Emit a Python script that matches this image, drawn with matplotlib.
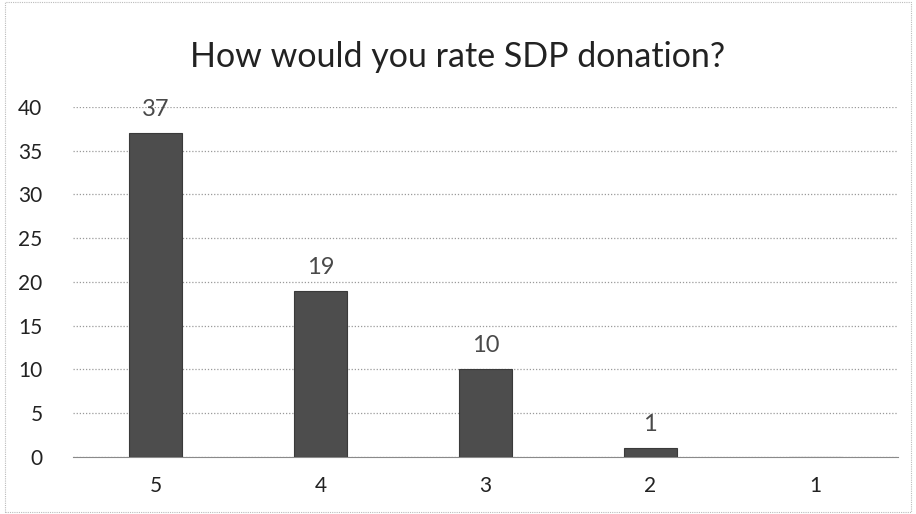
import matplotlib.pyplot as plt
from matplotlib.patches import Rectangle

# ratings and how many people gave each
ratings = ['5', '4', '3', '2', '1']
counts = [37, 19, 10, 1, 0]
labels = ['37', '19', '10', '1', '']
yticks = [0, 5, 10, 15, 20, 25, 30, 35, 40]

plt.rcParams['font.family'] = ['Lato', 'DejaVu Sans']

fig = plt.figure(figsize=(9.16, 5.14), dpi=100)
ax = fig.add_axes([0.0797, 0.111, 0.9003, 0.681])

x = list(range(len(ratings)))
ax.bar(x, counts, width=0.32, color='#4d4d4d', edgecolor='#3a3a3a', linewidth=0.8, zorder=3)

# handwritten counts above bars
for xi, c, lab in zip(x, counts, labels):
    if lab:
        ax.text(xi, c + 1.5, lab, ha='center', va='bottom', fontsize=17,
                color='#4a4a4a', zorder=4, clip_on=False)

ax.set_xlim(-0.5, len(ratings) - 0.5)
ax.set_ylim(0, 40)
ax.set_yticks(yticks)
ax.set_xticks(x)
ax.set_xticklabels(ratings)
ax.tick_params(axis='both', length=0, labelsize=15, colors='#222222')
ax.tick_params(axis='y', pad=22)
ax.tick_params(axis='x', pad=14)

ax.grid(axis='y', linestyle=(0, (1, 1.5)), color='#9a9a9a', linewidth=0.9, zorder=0)
for s in ['top', 'right', 'left']:
    ax.spines[s].set_visible(False)
ax.spines['bottom'].set_color('#8a8a8a')
ax.spines['bottom'].set_linestyle((0, (1, 1)))

fig.text(0.5, 0.89, 'How would you rate SDP donation?', ha='center', va='center',
         fontsize=24.5, color='#222222')

# faint frame of the scanned chart
fig.patches.append(Rectangle((0.006, 0.004), 0.988, 0.992, transform=fig.transFigure,
                             fill=False, edgecolor='#bbbbbb', linestyle=(0, (1, 1)),
                             linewidth=0.8))

fig.savefig('out.png', dpi=100)
